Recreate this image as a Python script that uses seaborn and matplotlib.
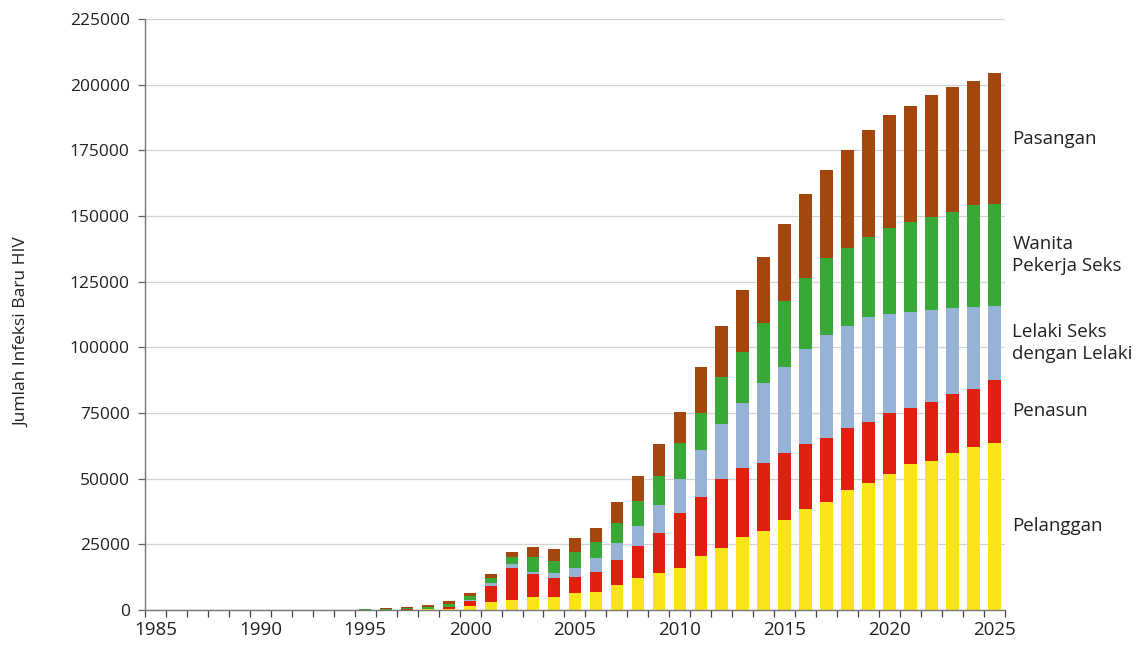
import numpy as np
import pandas as pd
import matplotlib
matplotlib.use("Agg")
import matplotlib.pyplot as plt
import seaborn as sns

years = list(range(1985, 2026))

pelanggan = [0, 0, 0, 0, 0, 0, 0, 0, 10, 20, 30, 50, 100, 200, 500,
             1500, 3000, 3800, 5100, 5100, 6600, 7000, 9500, 12100, 14200,
             16100, 20400, 23500, 27700, 30200, 34300, 38500, 41200, 45700, 48500,
             51800, 55600, 56800, 59700, 62200, 63700]
penasun = [0, 0, 0, 0, 0, 0, 0, 0, 10, 20, 30, 50, 100, 200, 500,
           2000, 6300, 12200, 8600, 7000, 6100, 7600, 9500, 12300, 15000,
           20900, 22700, 26300, 26300, 25900, 25400, 24600, 24400, 23500, 23200,
           23300, 21200, 22500, 22500, 21800, 23900]
lsl = [0, 0, 0, 0, 0, 0, 0, 0, 10, 20, 30, 50, 100, 100, 200,
       300, 1000, 1500, 900, 1900, 3200, 5100, 6400, 7600, 10800,
       12700, 17800, 21000, 24700, 30450, 33000, 36200, 39100, 38800, 40000,
       37400, 36700, 34900, 32800, 31300, 28100]
wps = [0, 0, 0, 0, 0, 0, 0, 20, 40, 60, 110, 250, 400, 700, 1200,
       1400, 1700, 2700, 5700, 4800, 6300, 6300, 7600, 9600, 11000,
       13900, 14200, 17800, 19700, 22600, 25000, 27000, 29200, 29700, 30400,
       32800, 34300, 35500, 36600, 38800, 38900]
pasangan = [0, 0, 0, 0, 0, 0, 0, 10, 30, 50, 100, 200, 300, 600, 1000,
            1300, 1700, 2000, 3800, 4300, 5100, 5100, 8200, 9400, 12200,
            11800, 17300, 19400, 23500, 25350, 29100, 31900, 33600, 37600, 40600,
            43000, 44100, 46400, 47400, 47300, 49700]

series_names = ["Pelanggan", "Penasun", "Lelaki Seks\ndengan Lelaki",
                "Wanita\nPekerja Seks", "Pasangan"]
series_values = [pelanggan, penasun, lsl, wps, pasangan]
series_colors = ["#FBE51A", "#E0200E", "#95B3D7", "#38A836", "#A5460F"]

y_ticks = list(range(0, 225001, 25000))
x_label_years = [1985, 1990, 1995, 2000, 2005, 2010, 2015, 2020, 2025]

sns.set_theme(style="white")
plt.rcParams["font.family"] = ["Open Sans", "DejaVu Sans"]

fig = plt.figure(figsize=(11.45, 6.51), dpi=100)
ax = fig.add_axes([0.1266, 0.063, 0.7511, 0.9078])

order = [str(y) for y in years]
bottom = np.zeros(len(years))
for name, vals, col in zip(series_names, series_values, series_colors):
    df = pd.DataFrame({"year": order, "value": vals})
    sns.barplot(data=df, x="year", y="value", order=order, color=col,
                width=0.6, bottom=bottom.copy(), errorbar=None,
                saturation=1, linewidth=0, ax=ax)
    bottom = bottom + np.array(vals, dtype=float)

ax.set_xlim(-0.5, len(years) - 0.5)
ax.set_ylim(0, 225000)
ax.set_yticks(y_ticks)
ax.set_yticklabels([str(v) for v in y_ticks], fontsize=12.5, color="#222222")
ax.yaxis.grid(True, color="#D4D4D4", linewidth=0.9)
ax.set_axisbelow(True)

pos = [order.index(str(y)) for y in x_label_years]
ax.set_xticks(pos)
ax.set_xticklabels([str(y) for y in x_label_years], fontsize=13.5, color="#222222")
ax.set_xticks(np.arange(-0.5, len(years), 1.0), minor=True)
ax.tick_params(axis="x", which="major", length=0, pad=8)
ax.tick_params(axis="x", which="minor", length=5, width=0.9, color="#444444",
               direction="out", bottom=True)
ax.tick_params(axis="y", which="major", length=5, width=0.9, color="#666666",
               direction="out", left=True, pad=6)

ax.set_xlabel("")
ax.set_ylabel("Jumlah Infeksi Baru HIV", fontsize=12.5, color="#222222")
ax.yaxis.set_label_coords(-0.133, 0.47)

for s in ["top", "right"]:
    ax.spines[s].set_visible(False)
ax.spines["left"].set_color("#777777")
ax.spines["bottom"].set_color("#777777")
ax.spines["left"].set_linewidth(1.0)
ax.spines["bottom"].set_linewidth(1.0)

# labels next to last bar, at segment midpoints
last = len(years) - 1
cum = 0.0
for name, vals in zip(series_names, series_values):
    v = vals[last]
    ax.text(last + 0.85, cum + v / 2, name, fontsize=13.5, color="#222222",
            ha="left", va="center", linespacing=1.25, clip_on=False)
    cum += v

fig.savefig("out.png", dpi=100)
